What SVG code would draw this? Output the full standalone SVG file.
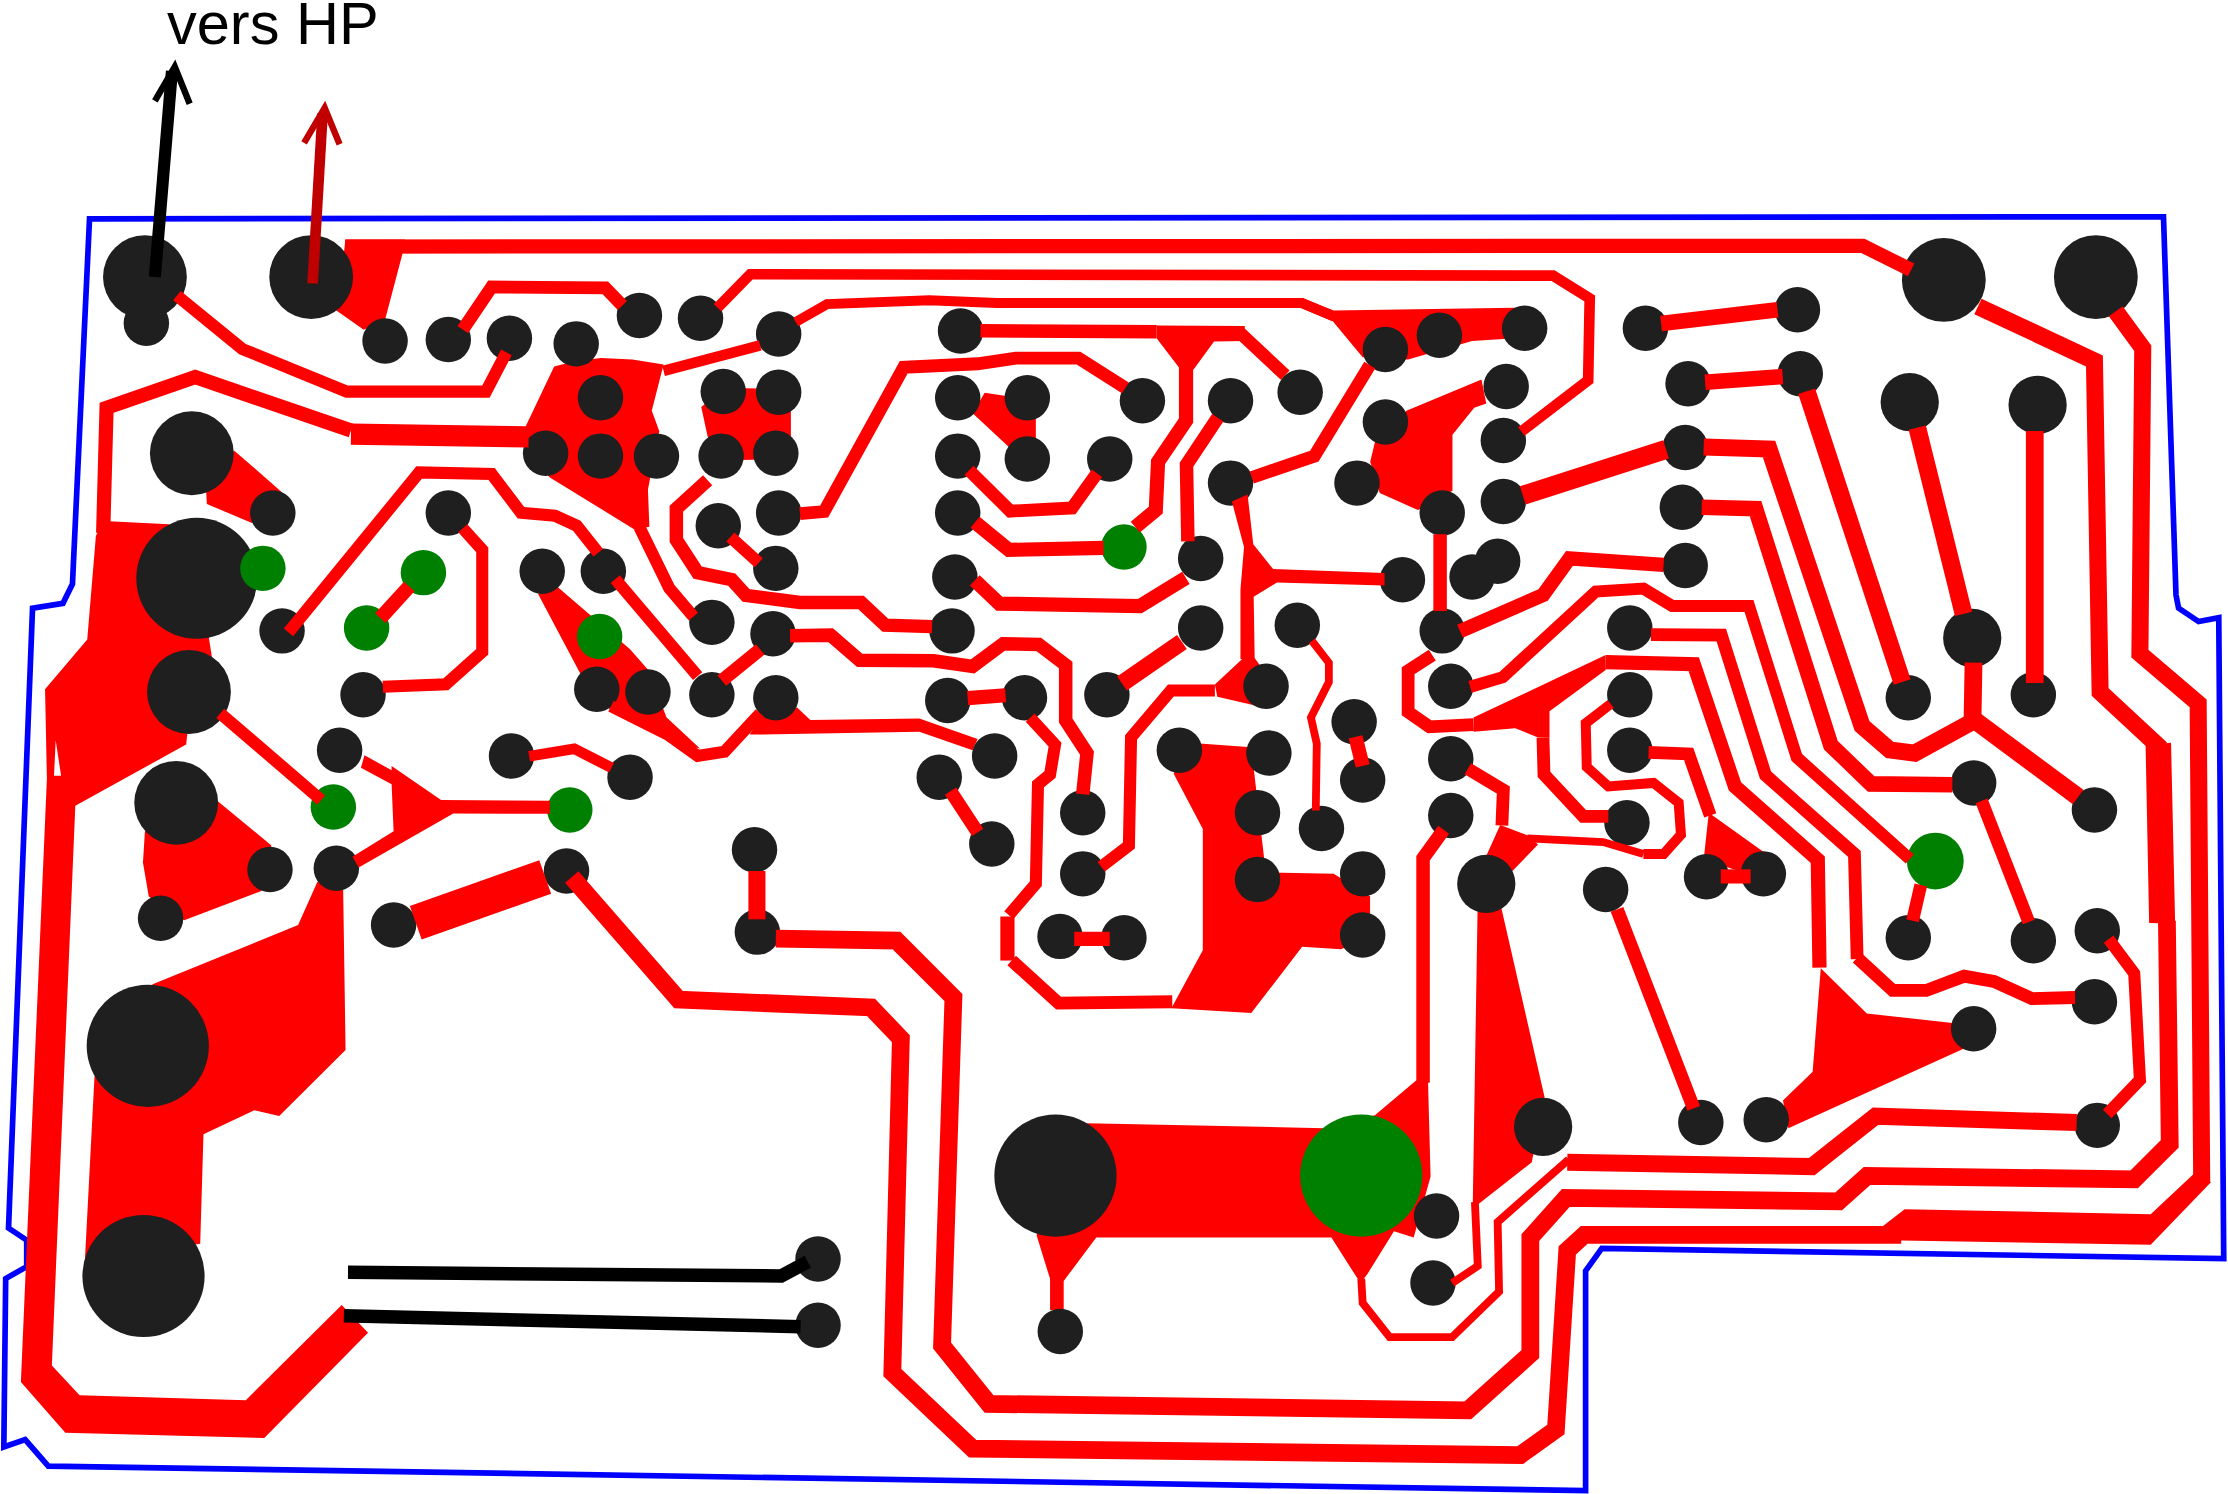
<svg xmlns="http://www.w3.org/2000/svg" width="2228" height="1494" viewBox="0 0 2228 1494">
<style>
.p{fill:#1f1f1f}.g{fill:#008000}
.f{fill:#ff0000;stroke:none}
.t{fill:none;stroke:#ff0000;stroke-linejoin:miter;stroke-linecap:butt}
.k{fill:none;stroke:#000;stroke-width:9.5}
.w5{stroke-width:5.5}.w6{stroke-width:6}.w7{stroke-width:7}.w75{stroke-width:7.5}.w85{stroke-width:8.5}.w9{stroke-width:9}.w95{stroke-width:9.5}.w10{stroke-width:10}.w11{stroke-width:11}.w12{stroke-width:12}.w125{stroke-width:12.5}.w13{stroke-width:13.5}.w15{stroke-width:15}.w25{stroke-width:25}
</style>
<rect width="2228" height="1494" fill="#fff"/>
<g transform="scale(1.42092)">
<polygon id="board-outline" fill="none" stroke="#0000ff" stroke-width="4" points="63,154 1522.6,152.6 1531.4,418.7 1533.2,427.9 1547.3,437.4 1561.5,434.7 1565,885.8 1127.3,878.6 1115.9,894.4 1115.9,1049 34,1031.8 17.7,1013.2 2.7,1018.3 4,899.8 18.8,891.4 18.8,872.8 6,864.3 22.9,428 44.3,424.6 51,411"/>

<g id="copper-areas">
<polygon class="f" points="243,168.5 285,168.5 283.4,178 271,225 256,232 236,218 240,200"/>
<polygon class="f" points="916,209.5 938.5,218.5 1066,216.5 1066,238 1036,240 991,253 959,251.5 938,226 916,217"/>
<polygon class="f" points="390,258 405,254 423,252 445,253 467,256.5 458.7,289 464,303.5 456,344.5 457,370.7 446.8,372.8 387,336 368,314 370,300"/>
<path class="f" fill-rule="evenodd" d="M67.5,377 73,366.6 119,369 146.7,447 149.4,464 132,515 131,524 53,567 36.5,961 56,982 173,985.4 240.5,918.4 259,938 186,1012 46,1008.4 14.7,972.6 33,548 31.7,485 61.4,450Z M39.2,521 43,546 38,546Z"/>
<polygon class="f" points="102,585 100.6,607 104.7,631 129.6,647.7 184,627 191,595 153.5,564"/>
<polygon class="f" points="164.7,317 198,346 177.3,368 145.6,354.7 145,344.5"/>
<polygon class="f" points="107.4,692.7 209.8,651 223.4,620.6 241.5,625.7 243.2,739 196.5,785.4 179,781.4 143.2,798.3 140.9,875.4 59.7,888 66.5,757.7"/>
<polygon class="f" points="764.7,790.5 931.8,794 967.6,784.8 996.6,760.4 1005,761 1006.8,828 994.9,871 981,866.6 962.5,896.4 957.4,903 937,871 771.5,871 748.6,901.5 748.6,922 739,922 739,900 729.5,869.4"/>
<polygon class="f" points="1040,632 1055,632 1087,772 1078,818 1041,847 1036.5,847"/>
<polygon class="f" points="1055.8,580.6 1075.3,588 1082.4,594.3 1061,616.5 1045,604.5"/>
<polygon class="f" points="834.6,522.5 880.6,525.9 890.8,613.9 938.6,614.9 964.2,630.8 964.2,659.5 943.7,668 916.4,666.3 880.6,713 824.4,709.6 846.5,668.7 846.5,583.4 826,544.5"/>
<polygon class="f" points="378.6,417.8 392,412.7 443.4,457 457,472.4 469,504.8 492.8,527 475.8,521.8 429.7,499.6 409.3,475.8"/>
<polygon class="f" points="493.5,286.5 510,273 556.6,273.7 556.6,323 505,324 498,307"/>
<polygon class="f" points="693,276.4 717,280 729,294 729,309.5 710,314.6 684.5,290.8"/>
<polygon class="f" points="989.8,289 1042.6,267 1046,284 1037.5,287 1022.2,306 1022.2,345.3 998,359 971,347 964.3,325 967.6,311.2"/>
<polygon class="f" points="1202.6,572 1243.2,601 1230,615 1199,605"/>
<polygon class="f" points="1281.4,681.4 1313.8,713.2 1374,720 1384.2,737 1258.6,794 1254.8,774.5 1275.7,754.3"/>
<polygon class="f" points="814,229 876,229.5 876,240 854.4,240.3 840,260 830,259 814,238"/>
<polygon class="f" points="875,463 883,463 895,480 885.7,497 856.7,490.3 855,481.8"/>
<polygon class="f" points="1037,505 1130,461 1130,471.5 1090.5,500.5 1090.5,519 1082.4,519 1066.4,512.5 1037,515"/>
<polygon class="f" points="528,516 539,501 561,498 570.3,506.7 647,505.7 688,520 684.5,528 647,515 528,517"/>
</g>

<g id="pads">
<g class="p">
<circle cx="102" cy="195" r="29.5"/><circle cx="103" cy="227.5" r="16"/><circle cx="219" cy="195" r="29.5"/>
<circle cx="271" cy="240" r="16"/><circle cx="315.5" cy="239" r="16"/><circle cx="358.5" cy="238" r="16"/><circle cx="405.5" cy="242" r="16"/>
<circle cx="450" cy="222" r="16"/><circle cx="493" cy="224" r="16"/><circle cx="548" cy="235" r="16"/><circle cx="676" cy="233" r="16"/>
<circle cx="422.6" cy="280" r="16"/><circle cx="384" cy="319" r="16"/><circle cx="422.6" cy="321" r="16"/><circle cx="462" cy="321" r="16"/>
<circle cx="509" cy="275.6" r="16"/><circle cx="548" cy="276" r="16"/><circle cx="507.5" cy="321" r="16"/><circle cx="546" cy="319" r="16"/>
<circle cx="548" cy="361" r="16"/><circle cx="505.5" cy="370" r="16"/><circle cx="546" cy="400" r="16"/>
<circle cx="135" cy="319" r="29.5"/><circle cx="192" cy="361" r="16"/><circle cx="138.5" cy="407" r="42.6"/><circle cx="198.5" cy="444" r="16"/>
<circle cx="133" cy="487" r="29.5"/><circle cx="315.5" cy="361" r="16"/><circle cx="255.5" cy="489" r="16"/>
<circle cx="381.6" cy="402" r="16"/><circle cx="424.6" cy="402" r="16"/><circle cx="420" cy="485" r="16"/><circle cx="456" cy="487" r="16"/>
<circle cx="501" cy="438" r="16"/><circle cx="501" cy="489" r="16"/><circle cx="544" cy="446" r="16"/><circle cx="546" cy="491" r="16"/>
<circle cx="239" cy="528" r="16"/><circle cx="236.7" cy="611" r="16"/><circle cx="360" cy="532" r="16"/><circle cx="443.4" cy="547" r="16"/><circle cx="398.7" cy="613" r="16"/>
<circle cx="124" cy="565" r="29.5"/><circle cx="190" cy="612" r="16"/><circle cx="113" cy="646.3" r="16"/>
<circle cx="104" cy="736" r="43"/><circle cx="101" cy="898" r="43"/><circle cx="277" cy="651" r="16"/>
<circle cx="531" cy="598" r="16"/><circle cx="533" cy="656" r="16"/><circle cx="575.7" cy="886" r="16"/><circle cx="575.7" cy="932.6" r="16"/>
<circle cx="742.8" cy="827.4" r="43"/><circle cx="746.2" cy="937" r="16"/><circle cx="1011" cy="855.8" r="16"/><circle cx="1008.5" cy="902.9" r="16"/>
<circle cx="674" cy="280" r="16"/><circle cx="723" cy="280" r="16"/><circle cx="674" cy="321" r="16"/><circle cx="723" cy="323" r="16"/><circle cx="781" cy="323" r="16"/>
<circle cx="804" cy="282" r="16"/><circle cx="866" cy="282" r="16"/><circle cx="915" cy="276" r="16"/><circle cx="975" cy="246" r="16"/><circle cx="1013" cy="236" r="16"/>
<circle cx="975" cy="297" r="16"/><circle cx="955" cy="340" r="16"/><circle cx="866" cy="340" r="16"/><circle cx="674" cy="361" r="16"/><circle cx="845" cy="393" r="16"/>
<circle cx="1015" cy="361" r="16"/><circle cx="987" cy="408" r="16"/><circle cx="672" cy="406" r="16"/><circle cx="670" cy="444" r="16"/><circle cx="845" cy="442" r="16"/>
<circle cx="913" cy="440" r="16"/><circle cx="1015" cy="444" r="16"/><circle cx="779" cy="489" r="16"/><circle cx="891" cy="483" r="16"/><circle cx="667" cy="493" r="16"/>
<circle cx="721" cy="491" r="16"/><circle cx="700" cy="532" r="16"/><circle cx="661" cy="547" r="16"/><circle cx="830" cy="528" r="16"/><circle cx="893" cy="530" r="16"/>
<circle cx="953" cy="508" r="16"/><circle cx="959" cy="549" r="16"/><circle cx="1021" cy="483" r="16"/><circle cx="1021" cy="534" r="16"/><circle cx="1021" cy="574" r="16"/>
<circle cx="930" cy="583" r="16"/><circle cx="885" cy="572" r="16"/><circle cx="762" cy="572" r="16"/><circle cx="762" cy="615" r="16"/><circle cx="698" cy="594" r="16"/>
<circle cx="885" cy="619" r="16"/><circle cx="959" cy="615" r="16"/><circle cx="959" cy="658" r="16"/><circle cx="746" cy="659" r="16"/><circle cx="791" cy="660" r="16"/>
<circle cx="1368" cy="197" r="29.5"/><circle cx="1475" cy="195" r="29.5"/><circle cx="1073" cy="231" r="16"/><circle cx="1158" cy="231" r="16"/><circle cx="1265" cy="218" r="16"/>
<circle cx="1060" cy="272" r="16"/><circle cx="1058" cy="310" r="16"/><circle cx="1058" cy="353" r="16"/><circle cx="1188" cy="270" r="16"/><circle cx="1267" cy="263" r="16"/>
<circle cx="1344" cy="283" r="20.5"/><circle cx="1434" cy="285" r="20.5"/><circle cx="1186" cy="315" r="16"/><circle cx="1184" cy="357" r="16"/><circle cx="1186" cy="398" r="16"/>
<circle cx="1054" cy="395" r="16"/><circle cx="1036" cy="406" r="16"/><circle cx="1147" cy="442" r="16"/><circle cx="1388" cy="449" r="20.5"/><circle cx="1343" cy="491" r="16"/><circle cx="1431" cy="489" r="16"/>
<circle cx="1147" cy="489" r="16"/><circle cx="1147" cy="528" r="16"/><circle cx="1145" cy="579" r="16"/><circle cx="1389" cy="551" r="16"/><circle cx="1474" cy="570" r="16"/>
<circle cx="1046" cy="622" r="20.5"/><circle cx="1130" cy="626" r="16"/><circle cx="1201" cy="617" r="16"/><circle cx="1241" cy="615" r="16"/><circle cx="1343" cy="660" r="16"/><circle cx="1431" cy="662" r="16"/><circle cx="1476" cy="655" r="16"/>
<circle cx="1389" cy="724" r="16"/><circle cx="1474" cy="705" r="16"/><circle cx="1476" cy="792" r="16"/><circle cx="1197" cy="790" r="16"/><circle cx="1243" cy="788" r="16"/><circle cx="1086" cy="793" r="20.5"/>
</g>
<g class="g">
<circle cx="185" cy="400" r="16"/><circle cx="298" cy="403" r="16"/><circle cx="258" cy="442" r="16"/><circle cx="422" cy="448" r="16"/><circle cx="234.6" cy="568" r="16"/><circle cx="401" cy="570" r="16"/>
<circle cx="791" cy="385" r="16"/><circle cx="1362" cy="606" r="20"/><circle cx="958" cy="827.4" r="43"/>
</g>
</g>

<g id="traces">
<polyline class="t w10" points="243,173.5 1311,173 1345,190"/>
<polyline class="t w85" points="124.5,208 170.5,245.6 244,275.6 342,275.6 356.4,248"/>
<polyline class="t w9" points="325.7,232 346,202 426,202.6 438,215"/>
<polyline class="t w75" points="505,216.6 528,193 1093,194 1118.8,210 1117.7,267.6 1070.7,303.7"/>
<polyline class="t w75" points="467,261 535,243"/>
<polyline class="t w7" points="560,226.6 582,214 654,211.3 701.5,213.3 916.4,213.3 938.6,222.6"/>
<polyline class="t w10" points="72.6,375 75,287 137.4,265.4 247,303"/>
<polyline class="t w15" points="247,305.5 372,307.5"/>
<polyline class="t w85" points="155,502 226,563"/>
<polygon class="f" points="256.5,531.6 275.6,542 275.6,539 310.4,563 387,563.5 387,572.7 319,572.5 252.4,610.5 248,603 277,585 275.6,552 254,540.4"/>
<polyline class="t w25" points="292.6,649.4 383.7,617.2"/>
<polyline class="t w125" points="402.4,617.2 477.5,703.5 613,709 634,731 628,966 684.5,1019.5 1070,1024 1095,1006 1103,880 1115,869 1338,869"/>
<polygon class="f" points="1325,863 1340.4,851 1513.6,854.5 1544,826 1556,832 1513.6,876 1338,873"/>
<polyline class="t w12" points="1489,219 1508,245 1506,460 1547,495 1549.5,832"/>
<polyline class="t w125" points="546,660.5 631,662 671,702 663,947 696,988 1033,992.5 1077,953 1077,871 1102,843 1294,845.5 1314,827.5 1502,830 1527,805 1525,648"/>
<polygon class="f" points="1510,524.4 1527.9,522.7 1530.8,650 1512.5,649.6"/>
<polyline class="t w12" points="1392,215.7 1474,254 1478,487 1521,527"/>
<polyline class="t w12" points="1461.5,790 1320,785.5 1275,821 1103,818"/>
<polyline class="t w5" points="1104,816 1054,860 1055,909 1022,941 978,941 959,917 958,900"/>
<polyline class="t w5" points="1038,846 1040,891 1022,903"/>
<polyline class="t w5" points="1075,590 1128.3,592.6 1156.6,601"/>
<polyline class="t w7" points="1156.6,601 1170.8,601 1183,587.4 1181.4,565 1163.7,551 1131.9,553.4 1116.7,539.7 1116,509 1133.6,495.4"/>
<polyline class="t w95" points="1016,584 1001.5,604 1001.5,762"/>
<polyline class="t w95" points="556,447.5 584.5,447 605,464.7 657,465 684.5,469 706,453 731,453.5 750,468 750,507 765,530 762,559"/>
<polyline class="t w95" points="498,338 476,358 476,380 491,403 515,408 525,419 563,424 606,424 623,440 656,441"/>
<polyline class="t w85" points="450,371 471,414 488,434"/>
<polyline class="t w85" points="514,378 534,396"/>
<polyline class="t w95" points="508,479 535,457"/>
<polyline class="t w85" points="433,407.6 491,475.8"/>
<polyline class="t w85" points="203,445 295,332.5 346,333.6 366.6,360.8 390.5,363 405.9,370 421,389"/>
<polyline class="t w85" points="325.7,371.8 339.4,387 339.4,458.7 313.8,481.6 269.4,483.3"/>
<polyline class="t w10" points="267.7,435 288,412.7"/>
<polyline class="t w85" points="430,497 470,517 491,532 510,529 535,502"/>
<polyline class="t w75" points="372.4,532.3 404.2,527 430.4,540.4"/>
<polyline class="t w95" points="690,232.8 814,233.5"/>
<polyline class="t w10" points="834.7,258 834.7,296 815,325 813.4,359 799,371"/>
<polyline class="t w9" points="858,235.5 874,235.5 904.5,264"/>
<polyline class="t w9" points="563,361.5 580,360 636,258.5 688,256 715,252 759,252 792,273"/>
<polyline class="t w9" points="682,331 711,359.7 754.5,357.5 772,333"/>
<polyline class="t w10" points="686.2,367.5 710,387 776.6,385.6"/>
<polyline class="t w10" points="686,408.4 703.3,424.8 802.2,426.5 834.6,406.7"/>
<polyline class="t w95" points="857,294 835,327 836,381"/>
<polyline class="t w9" points="881,336 925,321 964,257"/>
<polygon class="f" points="867,353 878,348 882,383 896,400.5 974.4,403.3 974.4,412 898.7,410 882.3,420 883,463 873,464 873,415 875.5,385"/>
<polyline class="t w85" points="855,486 824,486 796,519 794.5,595 775,610"/>
<polyline class="t w5" points="923.3,451 935.2,466.4 935.2,480 922.6,505 926.7,523.4 926,570.4"/>
<polyline class="t w10" points="954,518.6 959,539"/>
<polyline class="t w12" points="789.6,481 831.8,451.8"/>
<polyline class="t w10" points="681,491.3 707.7,489.3"/>
<polyline class="t w95" points="669,556.8 688,585.8"/>
<polyline class="t w12" points="532.7,613 532.7,647"/>
<polyline class="t w85" points="725,505 742.5,524 739,545 730.5,552 729,622 710,644"/>
<polyline class="t w10" points="709,645 709,676"/>
<polyline class="t w9" points="712,676 745,706 825,705"/>
<polyline class="t w10" points="756,660.8 781,660.8"/>
<polyline class="t w11" points="1169,227.7 1251,218"/>
<polyline class="t w11" points="1200,269 1254.6,265"/>
<polyline class="t w125" points="1271.5,275.4 1338.7,480"/>
<polyline class="t w125" points="1349.3,301 1381.9,432"/>
<polyline class="t w125" points="1432,303.4 1432,480.7"/>
<polyline class="t w125" points="1388.9,466.4 1388.2,507"/>
<polyline class="t w125" points="1388,505.6 1462.5,560.9"/>
<polyline class="t w12" points="1199,314.6 1245,316 1310.4,510.8 1329.9,527.8 1347.6,530 1388,508"/>
<polyline class="t w11" points="1197.6,357 1235.5,358 1288.5,524.4 1316.8,551.7 1374,552.3"/>
<polyline class="t w10" points="1027.5,444.3 1086,418.7 1104.6,393 1170.8,397.5"/>
<polyline class="t w85" points="1034.6,483.4 1057.6,476.6 1123,416.3 1156.6,414.2 1176.8,426.5 1230.9,426.5 1264.5,533 1344,604.5"/>
<polyline class="t w9" points="1161.9,446.6 1211.4,447 1242.5,545.5 1305.1,601 1307,675"/>
<polyline class="t w9" points="1307,674 1332,697 1355.7,697 1382.3,687 1403.3,690.7 1429.9,702.8 1460.4,702"/>
<polyline class="t w10" points="1130,466 1192,467.4 1221,553.4 1279.3,605 1280.5,681"/>
<polyline class="t w9" points="1008,461 991,472 991,501 1006,511.5 1037,510"/>
<polyline class="t w9" points="1085.9,519 1086.6,545 1114.2,574.5 1131.9,574.5"/>
<polyline class="t w95" points="1013.5,376 1013.5,430"/>
<polyline class="t w13" points="1071.7,348.7 1172.5,316.3"/>
<polyline class="t w9" points="1033,541 1058,556 1057,581"/>
<polyline class="t w9" points="1160.2,529.5 1188.4,530.6 1203.6,573.8"/>
<polyline class="t w10" points="1211,616.8 1232,616.8"/>
<polyline class="t w95" points="1138,640 1192,780"/>
<polyline class="t w85" points="1484,661 1502,685 1506,760 1483,784"/>
<polyline class="t w9" points="1351.8,622.8 1346,648"/>
<polyline class="t w9" points="1394.6,563.6 1427.8,648.9"/>
<polyline class="k" points="244.9,895.4 549.8,898 568.5,888"/>
<polyline class="k" points="242,926 563.4,933.7"/>
</g>

<g id="arrows" fill="none">
<line x1="109" y1="195" x2="121" y2="50" stroke="#000" stroke-width="8.5"/>
<polyline points="109,71 123,47 133.5,73" stroke="#000" stroke-width="4.5"/>
<line x1="220" y1="199.5" x2="227" y2="80" stroke="#c00000" stroke-width="7.5"/>
<polyline points="214,100.5 228.5,76 239,101.5" stroke="#c00000" stroke-width="4.5"/>
</g>
</g>
<text x="167" y="43.5" font-family="'Liberation Sans',Arial,sans-serif" font-size="59.5" fill="#000">vers HP</text>
</svg>
